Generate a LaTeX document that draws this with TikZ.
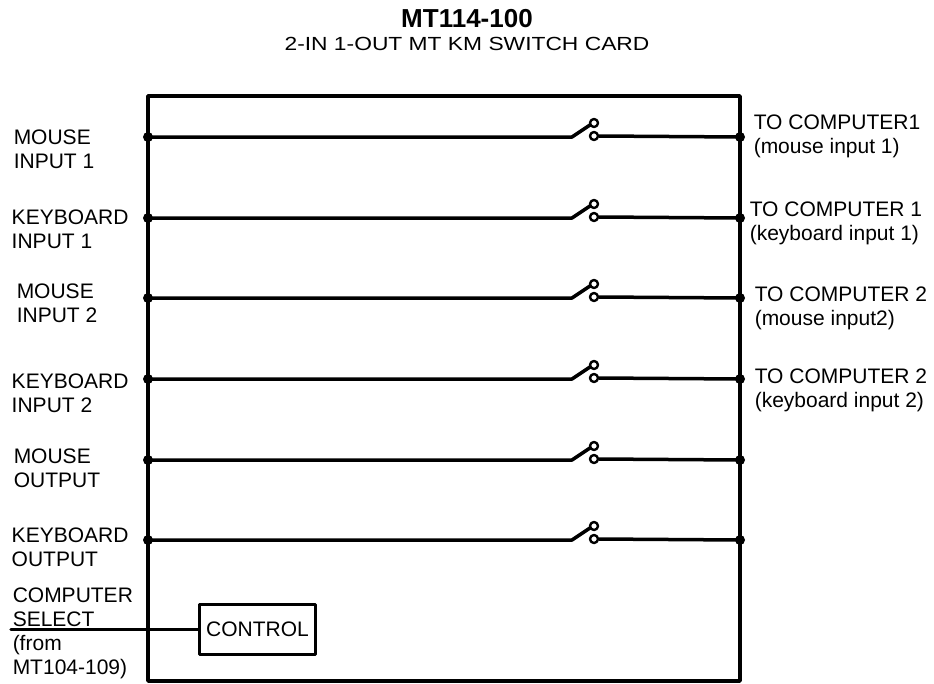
\documentclass[tikz,border=0pt]{standalone}
\usepackage{fontspec}
\setmainfont{Liberation Sans}
\newfontfamily\widefont[FakeStretch=1.2]{Liberation Sans}
\begin{document}
\begin{tikzpicture}[x=1pt, y=-1pt, line width=3.5pt, line join=round, line cap=round,
  font=\fontsize{21}{24}\selectfont,
  lbl/.style={anchor=north west, align=left, inner sep=0pt},
  contact/.style={circle, draw, fill=white, line width=2.4pt, inner sep=0pt, minimum size=8pt}]
  \useasboundingbox (0,0) rectangle (934,683);
  % Title
  \node[font=\bfseries\fontsize{26}{30}\selectfont] (title) at (467,19) {MT114-100};
  \node[font=\widefont\fontsize{19}{23}\selectfont] (subtitle) at (467,44) {2-IN 1-OUT MT KM SWITCH CARD};
  % Card outline
  \coordinate (NW) at (148,96);
  \coordinate (NE) at (740,96);
  \coordinate (SE) at (740,681);
  \coordinate (SW) at (148,681);
  \draw (NW) -- (NE) -- (SE) -- (SW) -- cycle;
  % Switched lines
  \foreach \y [count=\i] in {137,218,298,379,460,540}{
    \coordinate (L\i) at (148,\y);
    \coordinate (R\i) at (740,\y);
    \coordinate (S\i) at (572,\y);
    \coordinate (A\i) at (590,\y-12);
    \node[contact] (up\i) at (594,\y-14) {};
    \node[contact] (dn\i) at (594,\y-1) {};
    \draw (L\i) -- (S\i) -- (A\i);
    \draw (dn\i.east) -- (R\i);
  }
  \foreach \x in {L1,L2,L3,L4,L5,L6,R1,R2,R3,R4,R5,R6}{\fill (\x) circle(5pt);}
  % Left labels
  \node[lbl] (min1) at (12,128) {MOUSE\\INPUT 1};
  \node[lbl] (kin1) at (10,208) {KEYBOARD\\INPUT 1};
  \node[lbl] (min2) at (15,282) {MOUSE\\INPUT 2};
  \node[lbl] (kin2) at (10,372) {KEYBOARD\\INPUT 2};
  \node[lbl] (mout) at (12,447) {MOUSE\\OUTPUT};
  \node[lbl] (kout) at (10,526) {KEYBOARD\\OUTPUT};
  % Right labels
  \node[lbl] (pc1m) at (752,113) {TO COMPUTER1\\(mouse input 1)};
  \node[lbl] (pc1k) at (748,200) {TO COMPUTER 1\\(keyboard input 1)};
  \node[lbl] (pc2m) at (753,285) {TO COMPUTER 2\\(mouse input2)};
  \node[lbl] (pc2k) at (753,367) {TO COMPUTER 2\\(keyboard input 2)};
  % Control
  \node[draw, minimum width=116pt, minimum height=50pt, inner sep=0pt] (ctrl) at (257.5,629.5) {CONTROL};
  \node[lbl] (sel) at (11,586) {COMPUTER\\SELECT\\(from\\MT104-109)};
  \coordinate (selin) at (11,629.5);
  \draw (selin) -- (ctrl.west);
\end{tikzpicture}
\end{document}
